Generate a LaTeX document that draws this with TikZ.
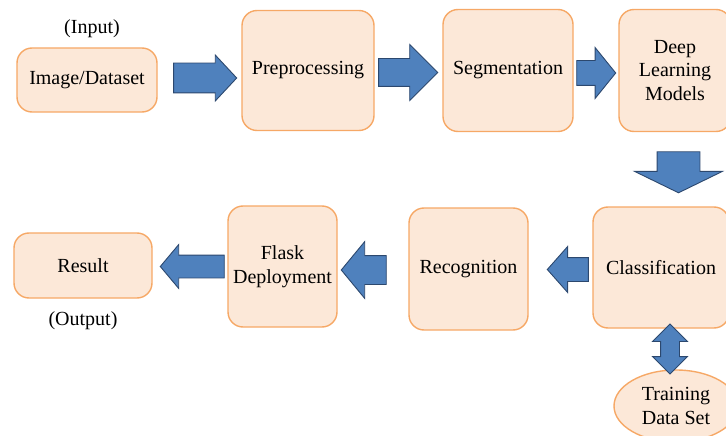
\documentclass[tikz,border=0pt]{standalone}
\usepackage{fontspec}
\setmainfont{Liberation Serif}
\usepackage{tikz}
\usetikzlibrary{shapes.geometric, shapes.arrows, arrows.meta, positioning, calc}
\definecolor{boxfill}{RGB}{252,232,216}
\definecolor{boxline}{RGB}{246,168,102}
\definecolor{arrfill}{RGB}{79,129,189}
\definecolor{arrline}{RGB}{44,72,110}
\tikzset{
  box/.style={rectangle, rounded corners=15pt, draw=boxline, line width=1.4pt,
              fill=boxfill, align=center, inner sep=2pt,
              font=\fontsize{20}{23.5}\selectfont},
  tag/.style={font=\fontsize{20}{23.5}\selectfont},
  blockarrow/.style={single arrow, draw=arrline, line width=0.9pt, fill=arrfill,
                     inner xsep=0pt},
  twoarrow/.style={double arrow, draw=arrline, line width=0.9pt, fill=arrfill,
                   inner ysep=0pt},
}
\begin{document}
\begin{tikzpicture}[x=1pt, y=-1pt]
  \useasboundingbox (0,0) rectangle (726,436);

  % top row
  \node[box, minimum width=140pt, minimum height=64pt] (img) at (87,80) {Image/Dataset};
  \node[tag] (input) at (92,29) {(Input)};
  \node[box, minimum width=132pt, minimum height=120pt] (pre) at (308,70.5) {Preprocessing};
  \node[box, minimum width=130pt, minimum height=122pt] (seg) at (508,70.5) {Segmentation};
  \node[box, minimum width=112pt, minimum height=122pt] (deep) at (675,70.5) {Deep\\Learning\\Models};

  % bottom row
  \node[box, minimum width=136pt, minimum height=121pt] (clf) at (661,267.5) {Classification};
  \node[box, minimum width=119pt, minimum height=122pt] (rec) at (468.5,269) {Recognition};
  \node[box, minimum width=109pt, minimum height=121pt] (flask) at (282.5,266.5) {Flask\\Deployment};
  \node[box, minimum width=138pt, minimum height=65pt] (res) at (83,265.5) {Result};
  \node[tag] (output) at (83,321) {(Output)};
  \node[ellipse, draw=boxline, line width=1.4pt, fill=boxfill, align=center,
        minimum width=124pt, minimum height=72pt, inner sep=0pt,
        font=\fontsize{20}{23.5}\selectfont] (train) at (676,406) {Training\\Data Set};

  % block arrows
  \node[blockarrow, anchor=tip, inner ysep=14.5pt, minimum height=63pt,
        single arrow head extend=8pt, single arrow tip angle=94] (a1)
    at ($(pre.west)+(-4,7.5)$) {};
  \node[blockarrow, anchor=tip, inner ysep=13.5pt, minimum height=59pt,
        single arrow head extend=14pt, single arrow tip angle=90] (a2)
    at ($(seg.west)+(-4,2)$) {};
  \node[blockarrow, anchor=tip, inner ysep=12pt, minimum height=39pt,
        single arrow head extend=13pt, single arrow tip angle=102] (a3)
    at ($(deep.west)+(-2,2.5)$) {};
  \node[blockarrow, anchor=tip, shape border rotate=270, inner xsep=21pt,
        inner ysep=0pt, minimum height=41pt, single arrow head extend=22.5pt,
        single arrow tip angle=128] (a4)
    at ($(clf.north)+(17.5,-13)$) {};
  \node[blockarrow, anchor=tip, shape border rotate=180, inner ysep=11.5pt,
        minimum height=41pt, single arrow head extend=11pt,
        single arrow tip angle=97] (a5)
    at ($(rec.east)+(18,0.5)$) {};
  \node[blockarrow, anchor=tip, shape border rotate=180, inner ysep=14pt,
        minimum height=45pt, single arrow head extend=14pt,
        single arrow tip angle=101] (a6)
    at ($(flask.east)+(3,3.5)$) {};
  \node[blockarrow, anchor=tip, shape border rotate=180, inner ysep=11pt,
        minimum height=64pt, single arrow head extend=10.5pt,
        single arrow tip angle=100] (a7)
    at ($(res.east)+(7,1)$) {};
  \node[twoarrow, shape border rotate=90, inner xsep=9pt, minimum height=50pt,
        double arrow head extend=8pt, double arrow tip angle=90] (a8)
    at ($(clf.south)!0.5!(train.north)+(1.5,0)$) {};
\end{tikzpicture}
\end{document}
